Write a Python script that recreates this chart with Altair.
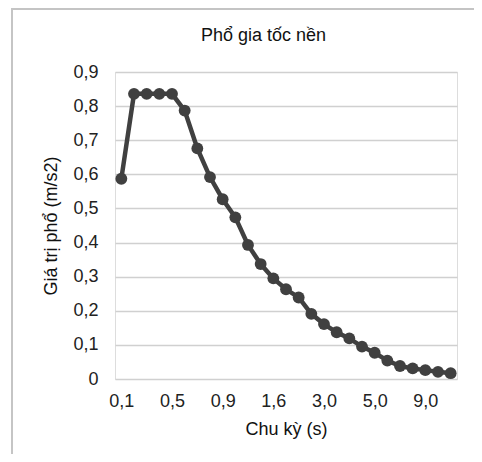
import altair as alt
import pandas as pd

periods = ["0,1", "0,2", "0,3", "0,4", "0,5", "0,6", "0,7", "0,8", "0,9", "1,0",
           "1,2", "1,4", "1,6", "1,8", "2,0", "2,5", "3,0", "3,5", "4,0", "4,5",
           "5,0", "6,0", "7,0", "8,0", "9,0", "10,0", "11,0"]
values = [0.587, 0.836, 0.836, 0.836, 0.836, 0.787, 0.676, 0.592, 0.527, 0.474,
          0.393, 0.337, 0.295, 0.263, 0.239, 0.191, 0.161, 0.137, 0.119, 0.095,
          0.077, 0.054, 0.038, 0.031, 0.026, 0.021, 0.017]
shown_labels = ["0,1", "0,5", "0,9", "1,6", "3,0", "5,0", "9,0"]
y_ticks = [0, 0.1, 0.2, 0.3, 0.4, 0.5, 0.6, 0.7, 0.8, 0.9]
title_text = ["Phổ gia tốc nền"]

df = pd.DataFrame({"period": periods, "value": values})

FONT = "Liberation Sans"
LINE = "#404040"

x = alt.X("period:O", sort=periods, title="Chu kỳ (s)",
          scale=alt.Scale(type="point", padding=0.5),
          axis=alt.Axis(values=shown_labels, labelAngle=0, ticks=False, tickSize=0,
                        domain=False, grid=False, labelPadding=13,
                        labelFontSize=18, labelFont=FONT, labelColor="#222222",
                        titleFontSize=18, titleFont=FONT, titleColor="#111111",
                        titleFontWeight="normal", titlePadding=10))
y = alt.Y("value:Q", title="Giá trị phổ (m/s2)",
          scale=alt.Scale(domain=[0, 0.9], nice=False),
          axis=alt.Axis(values=y_ticks, labelExpr="replace(format(datum.value, '.1f'), '.', ',') == '0,0' ? '0' : replace(format(datum.value, '.1f'), '.', ',')",
                        ticks=False, tickSize=0, domain=False, grid=True,
                        gridColor="#d0d0d0", gridWidth=1.5, labelPadding=17,
                        labelFontSize=18, labelFont=FONT, labelColor="#222222",
                        titleFontSize=18, titleFont=FONT, titleColor="#111111",
                        titleFontWeight="normal", titlePadding=12))

line = alt.Chart(df).mark_line(color=LINE, strokeWidth=4.5).encode(x=x, y=y)
pts = alt.Chart(df).mark_point(filled=True, color=LINE, size=140, opacity=1).encode(x=x, y=y)

frame_left = alt.Chart(df).mark_rule(color="#c4c4c4", strokeWidth=1.5).encode(
    x=alt.value(-103), y=alt.value(-64), y2=alt.value(400))
frame_top = alt.Chart(df).mark_rule(color="#c4c4c4", strokeWidth=1.5).encode(
    x=alt.value(-103), x2=alt.value(400), y=alt.value(-63.5))

title = alt.Chart(pd.DataFrame({"t": title_text})).mark_text(
    font=FONT, fontSize=18, color="#111111", align="center", baseline="alphabetic"
).encode(text="t:N", x=alt.value(148.5), y=alt.value(-31))

chart = alt.layer(frame_left, frame_top, line, pts, title).properties(
    width=342, height=307,
    autosize=alt.AutoSizeParams(type="none"),
    padding={"left": 107, "top": 64, "right": 17, "bottom": 75},
).configure_view(stroke=None).configure(background="white")

chart.save("out.html", embed_options={"renderer": "svg", "actions": False})
